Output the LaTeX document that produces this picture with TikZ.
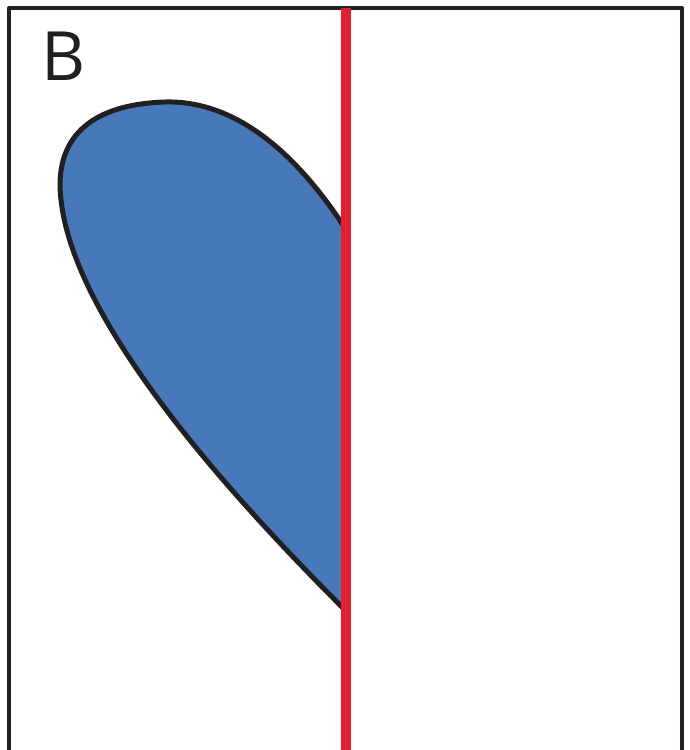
\documentclass[tikz,border=0pt]{standalone}
\usepackage{fontspec}
\setsansfont{Open Sans}
\definecolor{leafB}{RGB}{70,120,186}
\definecolor{cutR}{RGB}{227,30,45}
\definecolor{frameK}{RGB}{35,31,32}

\begin{document}
\begin{tikzpicture}[x=1pt,y=-1pt,line join=round]
\useasboundingbox (0,0) rectangle (690,750);
% frame, open at the bottom
\draw[frameK,line width=4pt] (9,760)--(9,8)--(682,8)--(682,760);
% the blue lobe
\fill[leafB] (343,225) .. controls (300,160) and (240,100) .. (165,102)
  .. controls (100,104) and (60,130) .. (60,185)
  .. controls (62,300) and (200,465) .. (343,608) -- cycle;
\draw[frameK,line width=5pt] (343,225) .. controls (300,160) and (240,100) .. (165,102)
  .. controls (100,104) and (60,130) .. (60,185)
  .. controls (62,300) and (200,465) .. (343,608);
% red cut line
\draw[cutR,line width=10pt] (346,8)--(346,760);
\node[anchor=base west,inner sep=0pt,font=\sffamily\fontsize{68}{68}\selectfont,frameK] (lab) at (41,80) {B};
\end{tikzpicture}
\end{document}
